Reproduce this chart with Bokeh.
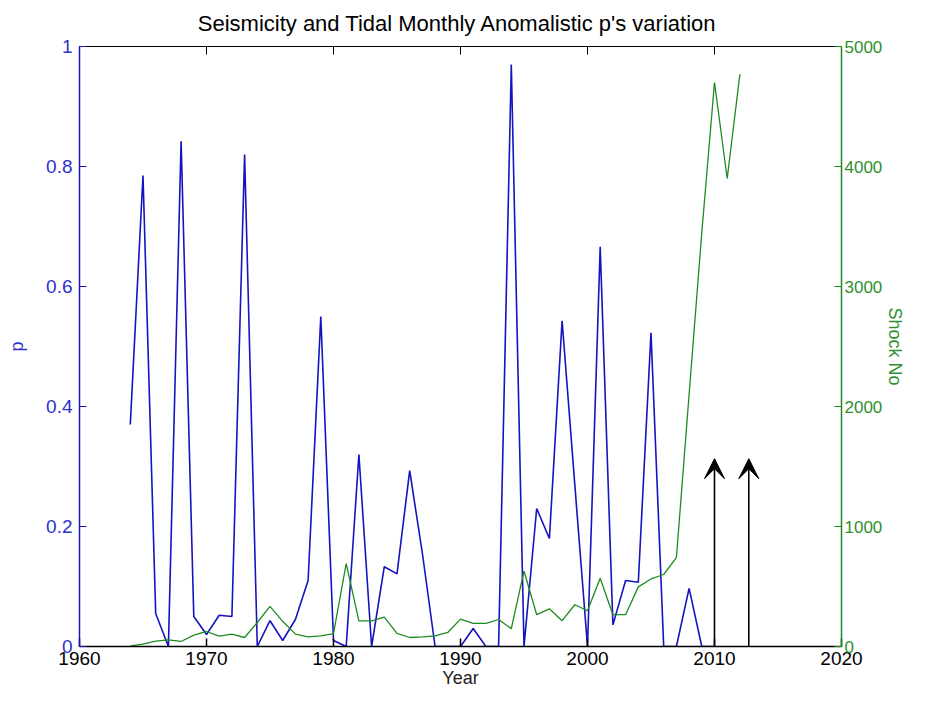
from bokeh.plotting import figure
from bokeh.models import Range1d, LinearAxis, Arrow, VeeHead, ColumnDataSource
from bokeh.embed import file_html
from bokeh.resources import INLINE

# ---- data ----
years_p = list(range(1964, 2011))
p_values = [0.37, 0.785, 0.055, 0.0, 0.842, 0.05, 0.02, 0.052, 0.05, 0.82,
            0.0, 0.043, 0.01, 0.045, 0.11, 0.55, 0.01, 0.0, 0.32, 0.0,
            0.133, 0.121, 0.293, 0.155, 0.0, 0.0, 0.0, 0.03, 0.0, 0.0,
            0.97, 0.0, 0.23, 0.18, 0.543, 0.27, 0.0, 0.666, 0.036, 0.11,
            0.107, 0.523, 0.0, 0.0, 0.097, 0.0, 0.0]

years_shock = list(range(1964, 2013))
shock_values = [5, 19, 45, 55, 42, 95, 125, 86, 103, 75,
                200, 335, 210, 103, 80, 89, 108, 690, 214, 214,
                245, 110, 75, 80, 89, 117, 228, 192, 192, 225,
                149, 629, 265, 314, 215, 348, 298, 569, 265, 265,
                497, 563, 600, 740, 2100, 3450, 4700, 3900, 4770]

arrow_years = [2010.0, 2012.7]
arrow_tops = [0.313, 0.313]
arrow_bases = [0.0, 0.0]

x_ticks = [1960, 1970, 1980, 1990, 2000, 2010, 2020]
p_ticks = [0, 0.2, 0.4, 0.6, 0.8, 1]
shock_ticks = [0, 1000, 2000, 3000, 4000, 5000]

FONT = "Liberation Sans"
BLUE_LINE = "#1414c0"
BLUE_TEXT = "#3030cc"
GREEN = "#1f8a1f"
GREEN_TEXT = "#2f8f2f"

p = figure(width=909, height=690,
           x_range=Range1d(1960, 2020), y_range=Range1d(0, 1),
           output_backend="svg", toolbar_location=None,
           title="Seismicity and Tidal Monthly Anomalistic  p's variation",
           x_axis_label="Year", y_axis_label="p",
           min_border_left=79, min_border_right=68,
           min_border_top=46, min_border_bottom=44)
p.extra_y_ranges = {"shock": Range1d(0, 5000)}
p.grid.visible = False
p.outline_line_color = None
p.background_fill_color = "white"
p.border_fill_color = "white"

p.title.align = "center"
p.title.vertical_align = "top"
p.title.text_font = FONT
p.title.text_font_size = "22px"
p.title.text_font_style = "normal"
p.title.text_color = "black"
p.title.standoff = 18

# bottom axis
xa = p.xaxis[0]
xa.ticker = x_ticks
xa.major_tick_in = 8
xa.major_tick_out = 0
xa.minor_tick_in = 0
xa.minor_tick_out = 0
xa.axis_line_color = "black"
xa.axis_line_width = 1.5
xa.major_tick_line_color = "black"
xa.major_tick_line_width = 1.5
xa.major_label_text_font = FONT
xa.major_label_text_font_size = "19px"
xa.major_label_text_color = "black"
xa.major_label_standoff = 5
xa.axis_label_text_font = FONT
xa.axis_label_text_font_size = "18px"
xa.axis_label_text_font_style = "normal"
xa.axis_label_text_color = "#222222"
xa.axis_label_standoff = 0

# top axis (frame line with ticks)
top = LinearAxis(ticker=x_ticks, major_tick_in=8, major_tick_out=0,
                 minor_tick_in=0, minor_tick_out=0,
                 axis_line_color="black", major_tick_line_color="black",
                 major_label_overrides={t: "" for t in x_ticks},
                 major_label_standoff=0)
p.add_layout(top, "above")

# left axis (p)
ya = p.yaxis[0]
ya.ticker = p_ticks
ya.major_label_overrides = {0: "0", 1: "1"}
ya.major_tick_in = 7
ya.major_tick_out = 0
ya.minor_tick_in = 0
ya.minor_tick_out = 0
ya.axis_line_color = BLUE_LINE
ya.axis_line_width = 1.5
ya.major_tick_line_color = BLUE_LINE
ya.major_label_text_font = FONT
ya.major_label_text_font_size = "19px"
ya.major_label_text_color = BLUE_TEXT
ya.major_label_standoff = 7
ya.axis_label_text_font = FONT
ya.axis_label_text_font_size = "18px"
ya.axis_label_text_font_style = "normal"
ya.axis_label_text_color = BLUE_TEXT
ya.axis_label_standoff = 16

# right axis (Shock No)
ra = LinearAxis(y_range_name="shock", ticker=shock_ticks, axis_label="Shock No",
                major_tick_in=7, major_tick_out=0, minor_tick_in=0, minor_tick_out=0,
                axis_line_color=GREEN, axis_line_width=1.5,
                major_tick_line_color=GREEN,
                major_label_text_font=FONT, major_label_text_font_size="17px",
                major_label_text_color=GREEN_TEXT, major_label_standoff=3,
                axis_label_text_font=FONT, axis_label_text_font_size="18px",
                axis_label_text_font_style="normal", axis_label_text_color=GREEN_TEXT,
                axis_label_standoff=0)
p.add_layout(ra, "right")

# data lines
p.line(years_p, p_values, line_color=BLUE_LINE, line_width=1.6)
p.line(years_shock, shock_values, line_color=GREEN, line_width=1.3, y_range_name="shock")

# arrows
arrow_src = ColumnDataSource(dict(x=arrow_years, y0=arrow_bases, y1=arrow_tops))
p.add_layout(Arrow(end=VeeHead(size=20, fill_color="black", line_color="black", line_width=1),
                   x_start="x", y_start="y0", x_end="x", y_end="y1",
                   source=arrow_src, line_color="black", line_width=1.6))

open("out.html", "w").write(file_html(p, INLINE))
